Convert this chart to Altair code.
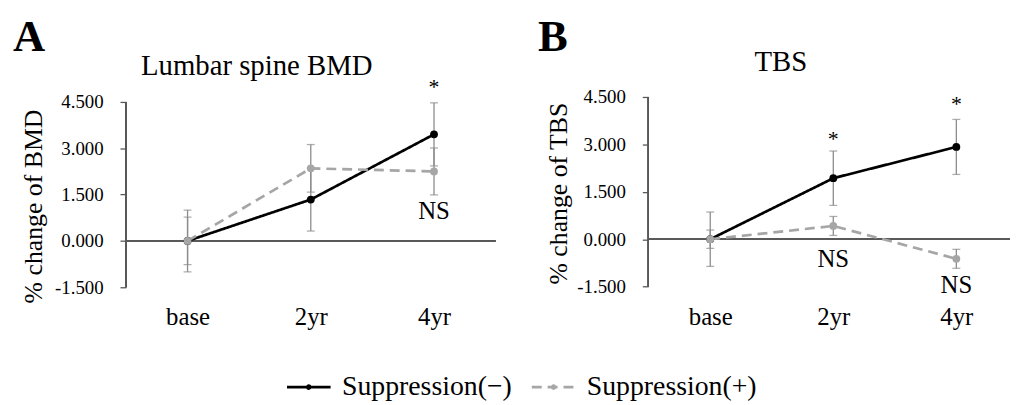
import altair as alt
import pandas as pd

# ---------------- data ----------------
cats = ["base", "2yr", "4yr"]
series = ["Suppression(\u2212)", "Suppression(+)"]

bmd_minus = [0.0, 1.34, 3.45]
bmd_minus_err = [1.00, 1.02, 1.02]
bmd_plus = [0.0, 2.35, 2.25]
bmd_plus_err = [0.77, 0.77, 0.76]

tbs_minus = [0.0, 1.93, 2.92]
tbs_minus_err = [0.86, 0.86, 0.87]
tbs_plus = [0.0, 0.42, -0.62]
tbs_plus_err = [0.29, 0.30, 0.30]

y_ticks = [-1.5, 0.0, 1.5, 3.0, 4.5]

bmd_ann_x = ["4yr", "4yr"]
bmd_ann_y = [4.76, 0.70]
bmd_ann_text = ["*", "NS"]

tbs_ann_x = ["2yr", "4yr", "2yr", "4yr"]
tbs_ann_y = [2.96, 4.06, -0.89, -1.71]
tbs_ann_text = ["*", "*", "NS", "NS"]

panel_letters = ["A", "B"]
panel_titles = ["Lumbar spine BMD", "TBS"]
y_titles = ["% change of BMD", "% change of TBS"]

# ---------------- style ----------------
FONT = "Liberation Serif"
BLACK = "#000000"
GREY = "#a6a6a6"
ERR = "#8c8c8c"
AXIS = "#595959"

legend = alt.Legend(
    title=None,
    orient="none",
    legendX=161,
    legendY=269,
    direction="horizontal",
    symbolType="M-1,0H1M0.07,0A0.07,0.07,0,1,1,-0.07,0A0.07,0.07,0,1,1,0.07,0Z",
    symbolSize=1936,
    symbolStrokeWidth=2.6,
    labelFont=FONT,
    labelFontSize=28,
    labelColor="black",
    labelLimit=400,
    labelOffset=10,
    columnPadding=14,
    padding=0,
)

color = alt.Color(
    "series:N",
    scale=alt.Scale(domain=series, range=[BLACK, GREY]),
    legend=legend,
)
dash = alt.StrokeDash(
    "series:N",
    scale=alt.Scale(domain=series, range=[[1, 0], [10, 6]]),
    legend=legend,
)


def panel(vm, em, vp, ep, ann_x, ann_y, ann_t, i, geo):
    rows = []
    for s, vals, errs in ((series[0], vm, em), (series[1], vp, ep)):
        for k, c in enumerate(cats):
            rows.append(
                {"cat": c, "idx": k, "series": s, "val": vals[k],
                 "lo": vals[k] - errs[k], "hi": vals[k] + errs[k]}
            )
    df = pd.DataFrame(rows)
    ann = pd.DataFrame({"cat": ann_x, "val": ann_y, "t": ann_t})

    xscale = alt.Scale(type="point", domain=cats, padding=geo["pad"], align=geo["align"])
    xaxis = alt.Axis(
        title=None, domain=False, ticks=False, tickSize=0, labelAngle=0,
        labelFont=FONT, labelFontSize=25, labelColor="black",
        labelPadding=18, labelBaseline="top",
    )
    yscale = alt.Scale(domain=geo["ydom"], nice=False, zero=False)
    yaxis = alt.Axis(
        values=y_ticks,
        labelExpr="(datum.value < 0 ? '-' : '') + format(abs(datum.value), '.3f')",
        domain=False, ticks=True, tickSize=6, tickColor=AXIS, tickWidth=1.3,
        labelFont=FONT, labelFontSize=19, labelColor="black", labelPadding=17,
        grid=False,
        title=y_titles[i], titleFont=FONT, titleFontSize=26,
        titleFontWeight="normal", titleColor="black",
        titleX=geo["tx"], titleY=geo["ty"], titleAngle=-90,
        titleBaseline="alphabetic", titleAlign="center",
    )
    X = alt.X("cat:N", scale=xscale, axis=xaxis, sort=cats)

    base = alt.Chart(df)

    zero = base.mark_rule(color=AXIS, strokeWidth=1.4).encode(
        y=alt.Y(datum=0, scale=yscale, axis=yaxis)
    )
    ydomain = base.mark_rule(color=AXIS, strokeWidth=1.3).encode(
        x=alt.value(0),
        y=alt.Y(datum=-1.5, scale=yscale, axis=yaxis),
        y2=alt.datum(4.5),
    )
    bars = base.mark_rule(color=ERR, strokeWidth=1.3).encode(
        x=X, y=alt.Y("lo:Q", scale=yscale, axis=yaxis), y2="hi:Q"
    )
    cap_lo = base.mark_tick(color=ERR, thickness=1.3, size=8).encode(
        x=X, y=alt.Y("lo:Q", scale=yscale, axis=yaxis)
    )
    cap_hi = base.mark_tick(color=ERR, thickness=1.3, size=8).encode(
        x=X, y=alt.Y("hi:Q", scale=yscale, axis=yaxis)
    )
    lines = base.mark_line(strokeWidth=2.7).encode(
        x=X, y=alt.Y("val:Q", scale=yscale, axis=yaxis),
        color=color, strokeDash=dash, order=alt.Order("idx:Q"),
    )
    points = base.mark_point(filled=True, size=62, opacity=1).encode(
        x=X, y=alt.Y("val:Q", scale=yscale, axis=yaxis), color=color
    )
    stars = alt.Chart(ann).transform_filter("datum.t == '*'").mark_text(
        font=FONT, fontSize=22, color="black", baseline="alphabetic", align="center"
    ).encode(x=X, y=alt.Y("val:Q", scale=yscale, axis=yaxis), text="t:N")
    ns = alt.Chart(ann).transform_filter("datum.t == 'NS'").mark_text(
        font=FONT, fontSize=25, color="black", baseline="alphabetic", align="center"
    ).encode(x=X, y=alt.Y("val:Q", scale=yscale, axis=yaxis), text="t:N")

    letter = alt.Chart(pd.DataFrame({"t": [panel_letters[i]]})).mark_text(
        font=FONT, fontSize=45, fontWeight="bold", color="black",
        align="left", baseline="alphabetic",
    ).encode(x=alt.value(geo["lx"]), y=alt.value(geo["ly"]), text="t:N")
    title = alt.Chart(pd.DataFrame({"t": [panel_titles[i]]})).mark_text(
        font=FONT, fontSize=29, color="black",
        align="center", baseline="alphabetic",
    ).encode(x=alt.value(geo["hx"]), y=alt.value(geo["hy"]), text="t:N")

    return alt.layer(
        zero, ydomain, bars, cap_lo, cap_hi, lines, points, stars, ns, letter, title
    ).properties(width=geo["w"], height=192)


geo_a = dict(w=373, pad=0.5, align=0.5, ydom=[-1.5, 4.66], tx=-85, ty=110,
             lx=-114, ly=-46.7, hx=132, hy=-21.7)
geo_b = dict(w=365, pad=0.47, align=0.536, ydom=[-1.52, 4.5], tx=-82, ty=97,
             lx=-111.3, ly=-46.7, hx=133.7, hy=-26.7)

pa = panel(bmd_minus, bmd_minus_err, bmd_plus, bmd_plus_err,
           bmd_ann_x, bmd_ann_y, bmd_ann_text, 0, geo_a)
pb = panel(tbs_minus, tbs_minus_err, tbs_plus, tbs_plus_err,
           tbs_ann_x, tbs_ann_y, tbs_ann_text, 1, geo_b)

chart = (
    alt.hconcat(pa, pb, spacing=154, bounds="flush")
    .properties(padding={"left": 5, "top": 5, "right": 0, "bottom": 0},
                background="white")
    .configure_view(stroke=None)
)

chart.save("out.html", embed_options={"renderer": "svg", "actions": False})
